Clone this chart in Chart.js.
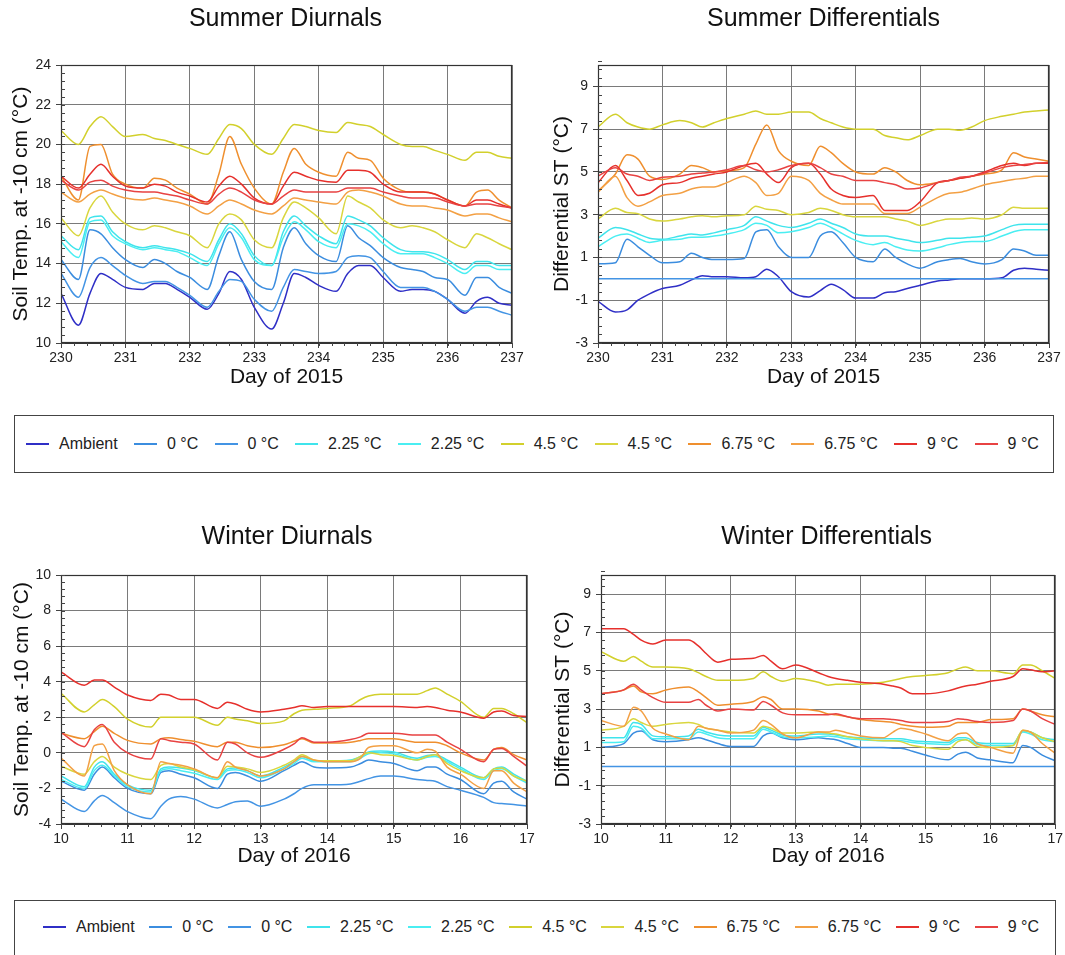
<!DOCTYPE html>
<html>
<head>
<meta charset="utf-8">
<script src="https://cdn.jsdelivr.net/npm/chart.js@4.4.1/dist/chart.umd.min.js"></script>
<style>
  html, body { margin: 0; padding: 0; background: #fff; }
  #page { position: relative; width: 1065px; height: 955px; overflow: hidden; background: #fff; }
  canvas { position: absolute; }
  .legend { position: absolute; box-sizing: border-box; border: 1px solid #444; display: flex; align-items: center;
            justify-content: space-between; font-family: 'Liberation Sans', Arial, Helvetica, sans-serif; font-size: 16px; color: #222; }
  .legend .item { display: flex; align-items: center; white-space: nowrap; }
  .legend .sw { display: inline-block; width: 23px; height: 0; border-top: 2px solid; margin-right: 10px; }
  #leg2 { font-family: 'Liberation Sans Narrow', 'Liberation Sans', Arial, sans-serif; font-size: 16px; }
</style>
</head>
<body>
<div id="page">
  <canvas id="c1" width="530" height="400" style="left:0;top:0"></canvas>
  <canvas id="c2" width="535" height="400" style="left:530px;top:0"></canvas>
  <canvas id="c3" width="560" height="380" style="left:0;top:500px"></canvas>
  <canvas id="c4" width="535" height="380" style="left:530px;top:500px"></canvas>
  <div id="leg1" class="legend" style="left:14px;top:415px;width:1040px;height:58px;padding:0 14px 0 11px;"></div>
  <div id="leg2" class="legend" style="left:14px;top:900px;width:1042px;height:70px;padding:0 16px 16px 28px;"></div>
</div>
<script>
// ---------- labels / ticks ----------
const seriesLabels = ['Ambient','0 °C','0 °C','2.25 °C','2.25 °C','4.5 °C','4.5 °C','6.75 °C','6.75 °C','9 °C','9 °C'];
const seriesColors = ['#2f2fc6','#3b8ddf','#4394e4','#3fe4ec','#4aeef2','#d2d02c','#d9d63e','#ef8f2e','#f3a044','#e6302c','#e84242'];
const summerDayTicks = [230,231,232,233,234,235,236,237];
const winterDayTicks = [10,11,12,13,14,15,16,17];
const summerDiurnalTicks = [10,12,14,16,18,20,22,24];
const winterDiurnalTicks = [-4,-2,0,2,4,6,8,10];
const differentialTicks = [-3,-1,1,3,5,7,9];

// ---------- x positions (day of year) ----------
const xSummer = [230,230.27,230.45,230.62,230.8, 231,231.27,231.45,231.62,231.8, 232,232.27,232.45,232.62,232.8,
                 233,233.27,233.45,233.62,233.8, 234,234.27,234.45,234.62,234.8, 235,235.27,235.45,235.62,235.8,
                 236,236.27,236.45,236.62,236.8, 237];
const xWinter = [10,10.35,10.5,10.62,10.8, 11,11.35,11.5,11.62,11.8, 12,12.35,12.5,12.62,12.8,
                 13,13.35,13.5,13.62,13.8, 14,14.35,14.5,14.62,14.8, 15,15.35,15.5,15.62,15.8,
                 16,16.35,16.5,16.62,16.8, 17];

// ---------- Summer diurnals ----------
const sdAmb  = [12.5,10.9,12.5,13.5,13.2, 12.8,12.7,13.0,13.0,12.7, 12.3,11.7,12.5,13.6,13.2, 11.8,10.7,12.0,13.5,13.3, 12.9,12.6,13.5,13.9,13.9, 13.3,12.6,12.7,12.7,12.6, 12.2,11.5,12.1,12.3,12.0, 11.9];
const sd0a   = [14.2,13.2,15.7,15.5,14.8, 14.2,13.8,14.2,14.0,13.6, 13.3,12.7,14.4,15.6,14.2, 13.1,12.7,14.8,15.8,15.0, 14.4,14.1,15.9,15.3,14.9, 14.3,13.8,13.7,13.6,13.3, 13.2,12.4,13.3,13.3,12.8, 12.5];
const sd0b   = [13.5,12.3,13.8,14.3,13.9, 13.4,13.0,13.1,13.1,12.8, 12.4,11.8,12.6,13.2,13.1, 12.2,11.6,12.8,13.7,13.6, 13.5,13.6,14.3,14.4,14.3, 13.6,12.8,12.8,12.8,12.6, 12.2,11.6,11.8,11.8,11.6, 11.4];
const sd225a = [15.4,14.7,16.3,16.4,15.6, 15.1,14.8,14.9,14.8,14.7, 14.5,14.1,15.2,16.0,15.5, 14.4,13.9,15.6,16.4,15.9, 15.4,15.0,16.4,16.2,15.9, 15.3,14.7,14.6,14.6,14.5, 14.2,13.7,14.1,14.1,13.9, 13.9];
const sd225b = [15.1,14.3,16.1,16.2,15.4, 15.0,14.7,14.8,14.7,14.6, 14.3,13.9,15.0,15.8,15.3, 14.2,13.9,15.3,16.1,15.7, 15.1,14.8,16.0,15.9,15.6, 15.0,14.5,14.5,14.5,14.3, 14.0,13.5,13.9,13.9,13.7, 13.7];
const sd45a  = [20.7,20.0,20.9,21.4,20.9, 20.4,20.5,20.3,20.2,20.0, 19.8,19.5,20.3,21.0,20.8, 20.0,19.5,20.3,21.0,20.9, 20.7,20.6,21.1,21.0,20.9, 20.5,20.0,19.9,19.9,19.7, 19.5,19.2,19.6,19.6,19.4, 19.3];
const sd45b  = [16.3,15.4,16.8,17.4,16.6, 16.0,15.7,15.9,15.8,15.6, 15.4,14.8,16.0,16.5,16.2, 15.2,14.8,16.3,17.1,16.8, 16.3,15.5,17.4,17.1,16.8, 16.2,15.8,15.9,15.8,15.6, 15.2,14.8,15.5,15.3,15.0, 14.7];
const sd675a = [18.4,17.2,19.9,20.0,18.5, 18.0,17.8,18.3,18.2,17.8, 17.5,17.0,18.5,20.4,19.0, 17.8,17.0,18.6,19.8,19.0, 18.6,18.4,19.6,19.3,19.2, 18.3,17.7,17.6,17.6,17.5, 17.2,16.9,17.6,17.7,17.2, 16.8];
const sd675b = [17.6,17.1,17.5,17.7,17.5, 17.3,17.2,17.3,17.2,17.1, 16.9,16.5,16.9,17.2,17.0, 16.7,16.5,16.9,17.3,17.2, 17.1,17.0,17.6,17.7,17.6, 17.4,17.0,16.9,16.9,16.8, 16.7,16.4,16.5,16.5,16.3, 16.1];
const sd9a   = [18.4,17.8,18.5,19.0,18.4, 17.9,17.8,18.0,17.9,17.6, 17.4,17.1,17.9,18.4,18.0, 17.3,17.0,17.9,18.6,18.4, 18.2,18.1,18.7,18.7,18.6, 18.0,17.6,17.6,17.6,17.5, 17.2,16.9,17.2,17.2,17.0, 16.8];
const sd9b   = [18.2,17.7,18.1,18.2,17.9, 17.7,17.6,17.6,17.5,17.4, 17.2,17.0,17.5,17.8,17.6, 17.2,17.0,17.4,17.7,17.6, 17.6,17.6,17.8,17.8,17.8, 17.6,17.4,17.3,17.3,17.3, 17.1,16.9,17.0,17.0,16.9, 16.8];

// ---------- Summer differentials ----------
const sfAmb  = [-1.05,-1.55,-1.45,-1.0,-0.7, -0.45,-0.3,-0.05,0.15,0.1, 0.1,0.05,0.1,0.45,0.1, -0.6,-0.85,-0.55,-0.25,-0.5, -0.9,-0.9,-0.65,-0.6,-0.45, -0.3,-0.1,-0.05,0.0,0.0, 0.0,0.05,0.4,0.5,0.45, 0.4];
const sf0a   = [0.7,0.75,1.85,1.5,1.1, 0.75,0.8,1.2,1.0,0.9, 0.9,0.95,2.2,2.3,1.5, 1.0,1.0,2.0,2.2,1.7, 1.0,0.8,1.4,1.0,0.7, 0.5,0.8,0.9,0.95,0.8, 0.7,0.9,1.4,1.3,1.1, 1.1];
const sf0b   = [0,0,0,0,0, 0,0,0,0,0, 0,0,0,0,0, 0,0,0,0,0, 0,0,0,0,0, 0,0,0,0,0, 0,0,0,0,0, 0];
const sf225a = [1.9,2.4,2.3,2.1,1.9, 1.85,2.0,2.1,2.05,2.15, 2.3,2.5,2.9,2.7,2.5, 2.4,2.6,2.8,2.6,2.4, 2.1,2.0,2.0,1.9,1.8, 1.7,1.8,1.9,1.9,1.95, 2.0,2.3,2.5,2.55,2.55, 2.55];
const sf225b = [1.5,2.0,2.1,1.9,1.7, 1.8,1.85,1.95,1.95,2.0, 2.1,2.3,2.6,2.5,2.15, 2.2,2.4,2.6,2.4,2.1, 1.8,1.6,1.7,1.5,1.35, 1.3,1.45,1.6,1.7,1.75, 1.75,2.0,2.2,2.3,2.3, 2.3];
const sf45a  = [7.1,7.7,7.3,7.1,7.0, 7.2,7.4,7.3,7.1,7.3, 7.5,7.7,7.85,7.7,7.7, 7.8,7.8,7.5,7.3,7.1, 7.0,7.0,6.7,6.6,6.5, 6.7,7.0,7.0,6.95,7.1, 7.4,7.6,7.7,7.8,7.85, 7.9];
const sf45b  = [2.8,3.3,3.1,3.05,2.8, 2.7,2.8,2.9,2.95,2.9, 2.95,3.0,3.4,3.25,3.2, 3.0,3.1,3.3,3.2,3.0, 2.9,2.9,2.9,2.8,2.7, 2.5,2.7,2.8,2.8,2.85, 2.8,3.0,3.35,3.3,3.3, 3.3];
const sf675a = [4.1,4.9,5.8,5.6,4.8, 4.65,4.9,5.3,5.2,5.0, 5.05,5.2,6.3,7.2,6.0, 5.5,5.3,6.2,5.9,5.4, 5.0,4.9,5.2,5.0,4.6, 4.4,4.5,4.6,4.7,4.8, 4.9,5.1,5.9,5.7,5.6, 5.5];
const sf675b = [4.05,4.8,3.8,3.4,3.6, 3.9,4.0,4.2,4.3,4.3, 4.5,4.8,4.5,3.9,4.0, 4.8,4.6,4.0,3.7,3.5, 3.5,3.5,3.05,3.05,3.05, 3.35,3.8,4.0,4.05,4.2, 4.4,4.55,4.65,4.7,4.8, 4.8];
const sf9a   = [4.5,5.3,4.6,3.9,4.0, 4.4,4.5,4.7,4.8,4.9, 5.0,5.3,5.4,4.9,4.5, 5.2,5.4,4.9,4.2,3.9, 3.8,3.9,3.2,3.2,3.2, 3.6,4.5,4.6,4.7,4.8, 5.0,5.3,5.4,5.3,5.4, 5.4];
const sf9b   = [4.8,5.2,4.9,4.8,4.6, 4.75,4.8,4.9,4.95,5.0, 5.1,5.3,5.1,5.0,5.1, 5.3,5.4,5.2,4.9,4.8, 4.6,4.6,4.5,4.4,4.2, 4.25,4.5,4.6,4.75,4.8, 4.95,5.2,5.3,5.35,5.4, 5.45];

// ---------- Winter diurnals (no ambient trace shown) ----------
const wdAmb  = [];
const wd0a   = [-1.6,-2.1,-1.2,-0.8,-1.4, -2.0,-2.3,-1.1,-1.0,-1.2, -1.4,-2.0,-1.2,-1.1,-1.3, -1.6,-1.0,-0.7,-0.5,-0.8, -0.85,-0.8,-0.6,-0.4,-0.5, -0.6,-1.0,-0.8,-0.8,-1.2, -1.5,-2.3,-1.7,-1.6,-2.2, -2.6];
const wd0b   = [-2.6,-3.3,-2.7,-2.4,-2.8, -3.3,-3.7,-3.0,-2.6,-2.45, -2.6,-3.1,-2.9,-2.75,-2.7, -3.0,-2.6,-2.3,-2.0,-1.8, -1.8,-1.75,-1.6,-1.45,-1.3, -1.3,-1.5,-1.55,-1.6,-1.9, -2.1,-2.5,-2.8,-2.85,-2.9, -3.0];
const wd225a = [-1.3,-1.9,-0.8,-0.5,-1.2, -1.8,-2.1,-0.9,-0.8,-0.85, -1.0,-1.4,-0.9,-0.85,-1.0, -1.3,-0.8,-0.5,-0.2,-0.45, -0.45,-0.4,-0.2,0.05,0.1, 0.05,-0.3,-0.15,-0.1,-0.4, -0.8,-1.4,-0.9,-0.8,-1.2, -1.6];
const wd225b = [-1.5,-2.0,-1.0,-0.7,-1.3, -1.9,-2.2,-1.0,-0.9,-1.0, -1.15,-1.5,-1.0,-0.95,-1.1, -1.4,-0.9,-0.6,-0.3,-0.5, -0.5,-0.5,-0.3,-0.05,0.0, -0.05,-0.4,-0.25,-0.2,-0.5, -0.9,-1.5,-1.0,-0.9,-1.3, -1.7];
const wd45a  = [3.35,2.3,2.7,3.0,2.6, 1.9,1.45,2.0,2.0,2.0, 2.0,1.55,2.0,1.9,1.8, 1.65,1.8,2.2,2.4,2.45, 2.5,2.65,3.0,3.2,3.3, 3.3,3.3,3.5,3.65,3.3, 2.9,2.0,2.5,2.5,2.2, 1.7];
const wd45b  = [-0.75,-1.2,-0.5,-0.2,-0.8, -1.2,-1.5,-0.7,-0.6,-0.8, -0.95,-1.4,-0.75,-0.8,-0.9, -1.1,-0.7,-0.4,-0.1,-0.4, -0.45,-0.45,-0.2,0.0,-0.1, -0.15,-0.4,-0.2,-0.1,-0.6, -1.0,-1.4,-0.9,-0.85,-1.3, -1.6];
const wd675a = [1.1,0.8,1.2,1.5,1.1, 0.7,0.5,0.8,0.85,0.75, 0.65,0.35,0.6,0.6,0.4, 0.3,0.45,0.65,0.8,0.55, 0.55,0.6,0.7,0.8,0.8, 0.8,0.6,0.6,0.6,0.4, 0.0,-0.4,0.2,0.3,-0.1, -0.4];
const wd675b = [-0.3,-1.3,0.4,0.5,-1.0, -1.8,-2.3,-0.5,-0.6,-0.7, -0.9,-1.4,-0.5,-0.8,-1.0, -1.3,-0.9,-0.5,-0.2,-0.4, -0.5,-0.5,-0.3,0.3,0.4, 0.4,0.0,0.2,0.1,-0.8, -1.2,-2.0,-1.0,-1.0,-1.7, -2.2];
const wd9a   = [4.55,3.8,4.1,4.1,3.7, 3.25,2.95,3.3,3.25,3.0, 3.0,2.5,2.85,2.75,2.45, 2.3,2.45,2.55,2.65,2.55, 2.6,2.6,2.6,2.6,2.6, 2.6,2.55,2.6,2.55,2.4, 2.3,1.95,2.3,2.35,2.1, 2.05];
const wd9b   = [1.15,0.35,1.3,1.6,0.6, 0.0,-0.35,0.8,0.7,0.6, 0.5,-0.4,0.6,0.5,0.0, -0.25,0.2,0.5,0.85,0.6, 0.6,0.75,0.9,1.1,1.1, 1.1,1.0,1.0,1.0,0.6, 0.2,-0.5,0.2,0.25,-0.2, -0.75];

// ---------- Winter differentials (no ambient trace shown) ----------
const wfAmb  = [];
const wf0a   = [1.0,1.2,1.75,1.85,1.4, 1.3,1.4,1.5,1.4,1.2, 1.05,1.05,1.6,1.75,1.5, 1.4,1.5,1.45,1.4,1.2, 1.0,1.0,0.95,0.95,0.8, 0.6,0.35,0.65,0.75,0.45, 0.35,0.2,1.1,1.0,0.6, 0.3];
const wf0b   = [0,0,0,0,0, 0,0,0,0,0, 0,0,0,0,0, 0,0,0,0,0, 0,0,0,0,0, 0,0,0,0,0, 0,0,0,0,0, 0];
const wf225a = [1.5,1.5,2.3,2.2,1.6, 1.55,1.6,1.95,1.8,1.65, 1.6,1.6,2.05,1.9,1.65, 1.6,1.7,1.7,1.65,1.55, 1.5,1.45,1.45,1.45,1.35, 1.3,1.25,1.5,1.5,1.25, 1.2,1.2,1.85,1.8,1.5, 1.4];
const wf225b = [1.25,1.3,2.1,2.0,1.45, 1.45,1.45,1.8,1.7,1.5, 1.45,1.45,1.95,1.8,1.55, 1.5,1.55,1.6,1.55,1.45, 1.4,1.35,1.35,1.35,1.25, 1.2,1.15,1.4,1.4,1.15, 1.1,1.1,1.8,1.7,1.4, 1.3];
const wf45a  = [6.0,5.5,5.75,5.5,5.2, 5.2,5.1,4.9,4.7,4.5, 4.5,4.6,4.95,4.7,4.45, 4.6,4.4,4.25,4.3,4.3, 4.3,4.4,4.5,4.6,4.7, 4.75,4.9,5.1,5.2,5.0, 5.0,4.85,5.3,5.3,5.0, 4.6];
const wf45b  = [1.9,2.1,2.5,2.3,2.1, 2.2,2.3,2.2,2.0,1.9, 1.8,1.75,2.1,2.0,1.75, 1.75,1.8,1.75,1.7,1.55, 1.45,1.35,1.35,1.3,1.1, 1.0,0.9,1.3,1.4,1.05, 1.0,1.1,1.9,1.8,1.5, 1.3];
const wf675a = [3.8,4.0,4.2,3.9,3.8, 4.0,4.15,3.9,3.6,3.2, 3.25,3.4,3.65,3.5,3.0, 3.0,2.9,2.75,2.7,2.6, 2.45,2.35,2.3,2.2,2.1, 2.05,2.1,2.3,2.3,2.3, 2.45,2.5,3.0,2.9,2.7, 2.6];
const wf675b = [2.4,2.1,3.1,2.9,2.0, 1.7,1.4,2.1,2.0,1.9, 1.75,1.9,2.4,2.2,1.7, 1.5,1.8,1.8,1.9,1.75, 1.6,1.5,1.8,2.0,1.9, 1.7,1.35,1.7,1.75,1.2, 1.0,0.7,1.9,1.8,1.2, 0.7];
const wf9a   = [7.2,7.2,6.9,6.6,6.4, 6.6,6.6,6.3,5.9,5.45, 5.6,5.65,5.8,5.5,5.1, 5.3,4.9,4.7,4.6,4.5, 4.4,4.3,4.2,4.1,3.8, 3.8,3.95,4.1,4.2,4.3, 4.45,4.7,5.1,5.05,4.95, 5.0];
const wf9b   = [3.8,4.0,4.3,4.0,3.6, 3.35,3.35,3.5,3.2,2.9, 3.0,2.95,3.4,3.2,2.8, 2.7,2.7,2.7,2.75,2.6, 2.5,2.5,2.45,2.4,2.3, 2.3,2.35,2.5,2.45,2.35, 2.3,2.4,3.0,2.9,2.5, 2.2];

// ---------- rendering ----------
const FONT = "'Liberation Sans', Arial, Helvetica, sans-serif";
Chart.defaults.font.family = FONT;
Chart.defaults.color = '#222';

const panelTitlePlugin = {
  id: 'panelTitle',
  afterDraw(chart, args, opts) {
    const ca = chart.chartArea, ctx = chart.ctx;
    ctx.save();
    ctx.font = '25px ' + FONT;
    ctx.fillStyle = '#111';
    ctx.textAlign = 'center';
    ctx.textBaseline = 'middle';
    ctx.fillText(opts.text, (ca.left + ca.right) / 2 + (opts.dx || 0), opts.y);
    ctx.restore();
  }
};
const framePlugin = {
  id: 'frame',
  afterDraw(chart) {
    const ca = chart.chartArea, ctx = chart.ctx;
    ctx.save();
    ctx.strokeStyle = '#333';
    ctx.lineWidth = 1.2;
    ctx.strokeRect(Math.round(ca.left) + 0.5, Math.round(ca.top) + 0.5,
                   Math.round(ca.right) - Math.round(ca.left) - 1, Math.round(ca.bottom) - Math.round(ca.top) - 1);
    ctx.restore();
  }
};
const minorTicksPlugin = {
  id: 'minorTicks',
  afterDraw(chart, args, opts) {
    const ca = chart.chartArea, ctx = chart.ctx, sx = chart.scales.x, sy = chart.scales.y;
    ctx.save();
    ctx.strokeStyle = '#444';
    ctx.lineWidth = 1;
    const nx = Math.round((sx.max - sx.min) / opts.x);
    for (let k = 0; k <= nx; k++) {
      const px = Math.round(sx.getPixelForValue(sx.min + k * opts.x)) + 0.5;
      ctx.beginPath(); ctx.moveTo(px, ca.bottom); ctx.lineTo(px, ca.bottom + 3); ctx.stroke();
    }
    const ny = Math.round((sy.max - sy.min) / opts.y);
    for (let k = 0; k <= ny; k++) {
      const py = Math.round(sy.getPixelForValue(sy.min + k * opts.y)) + 0.5;
      ctx.beginPath(); ctx.moveTo(ca.left, py); ctx.lineTo(ca.left + 4, py); ctx.stroke();
    }
    ctx.restore();
  }
};

function buildPanel(cfg) {
  const datasets = cfg.series.map((ys, i) => ({
    label: seriesLabels[i],
    data: ys.map((y, k) => ({ x: cfg.xs[k], y: y })),
    borderColor: seriesColors[i],
    backgroundColor: seriesColors[i],
    borderWidth: 1.5,
    pointRadius: 0,
    cubicInterpolationMode: 'monotone',
    fill: false,
    order: 10 - i
  }));
  const grid = { color: '#7a7a7a', lineWidth: 1, tickLength: 5, drawTicks: true, tickColor: '#444' };
  return new Chart(document.getElementById(cfg.id), {
    type: 'line',
    data: { datasets },
    options: {
      responsive: false,
      animation: false,
      devicePixelRatio: 1,
      layout: { padding: { top: cfg.padTop, right: cfg.padRight, left: 0, bottom: 0 } },
      plugins: {
        legend: { display: false },
        tooltip: { enabled: false },
        title: { display: false },
        panelTitle: { text: cfg.title, y: cfg.titleY, dx: cfg.titleDx },
        minorTicks: { x: 0.2, y: 0.4 }
      },
      scales: {
        x: {
          type: 'linear',
          min: cfg.xTicks[0], max: cfg.xTicks[cfg.xTicks.length - 1],
          afterBuildTicks: s => { s.ticks = cfg.xTicks.map(v => ({ value: v })); },
          afterFit: s => { s.height = cfg.xHeight; },
          ticks: { font: { size: 14 }, color: '#222', padding: 2, maxRotation: 0, autoSkip: false, callback: v => String(v) },
          grid: grid,
          border: { display: true, color: '#333' },
          title: { display: true, text: cfg.xTitle, font: { size: 21 }, color: '#111', padding: { top: 0, bottom: cfg.xTitlePad } }
        },
        y: {
          type: 'linear',
          min: cfg.yMin, max: cfg.yMax,
          afterBuildTicks: s => { s.ticks = cfg.yTicks.map(v => ({ value: v })); },
          afterFit: s => { s.width = cfg.yWidth; },
          ticks: { font: { size: 14 }, color: '#222', padding: 5, autoSkip: false, callback: v => String(v) },
          grid: grid,
          border: { display: true, color: '#333' },
          title: { display: true, text: cfg.yTitle, font: { size: 21 }, color: '#111', padding: { top: cfg.yTitlePad, bottom: 0 } }
        }
      }
    },
    plugins: [panelTitlePlugin, framePlugin, minorTicksPlugin]
  });
}

buildPanel({ id: 'c1', title: 'Summer Diurnals', titleY: 19, titleDx: -1,
  xs: xSummer, series: [sdAmb, sd0a, sd0b, sd225a, sd225b, sd45a, sd45b, sd675a, sd675b, sd9a, sd9b],
  xTicks: summerDayTicks, yTicks: summerDiurnalTicks, yMin: 10, yMax: 24,
  padTop: 65, padRight: 18, yWidth: 61, xHeight: 57, yTitlePad: 9, xTitlePad: 10,
  xTitle: 'Day of 2015', yTitle: 'Soil Temp. at -10 cm (°C)' });

buildPanel({ id: 'c2', title: 'Summer Differentials', titleY: 19, titleDx: 0,
  xs: xSummer, series: [sfAmb, sf0a, sf0b, sf225a, sf225b, sf45a, sf45b, sf675a, sf675b, sf9a, sf9b],
  xTicks: summerDayTicks, yTicks: differentialTicks, yMin: -3, yMax: 10,
  padTop: 65, padRight: 16, yWidth: 68, xHeight: 57, yTitlePad: 20, xTitlePad: 10,
  xTitle: 'Day of 2015', yTitle: 'Differential ST (°C)' });

buildPanel({ id: 'c3', title: 'Winter Diurnals', titleY: 37.5, titleDx: -7,
  xs: xWinter, series: [wdAmb, wd0a, wd0b, wd225a, wd225b, wd45a, wd45b, wd675a, wd675b, wd9a, wd9b],
  xTicks: winterDayTicks, yTicks: winterDiurnalTicks, yMin: -4, yMax: 10,
  padTop: 75, padRight: 33, yWidth: 61, xHeight: 56, yTitlePad: 10, xTitlePad: 11,
  xTitle: 'Day of 2016', yTitle: 'Soil Temp. at -10 cm (°C)' });

buildPanel({ id: 'c4', title: 'Winter Differentials', titleY: 37.5, titleDx: -1.5,
  xs: xWinter, series: [wfAmb, wf0a, wf0b, wf225a, wf225b, wf45a, wf45b, wf675a, wf675b, wf9a, wf9b],
  xTicks: winterDayTicks, yTicks: differentialTicks, yMin: -3, yMax: 10,
  padTop: 75, padRight: 8, yWidth: 71, xHeight: 56, yTitlePad: 21, xTitlePad: 11,
  xTitle: 'Day of 2016', yTitle: 'Differential ST (°C)' });

// ---------- legends ----------
function buildLegend(id) {
  const el = document.getElementById(id);
  seriesLabels.forEach((lab, i) => {
    const item = document.createElement('span');
    item.className = 'item';
    const sw = document.createElement('span');
    sw.className = 'sw';
    sw.style.borderTopColor = seriesColors[i];
    const tx = document.createElement('span');
    tx.textContent = lab;
    item.appendChild(sw);
    item.appendChild(tx);
    el.appendChild(item);
  });
}
buildLegend('leg1');
buildLegend('leg2');
</script>
</body>
</html>
